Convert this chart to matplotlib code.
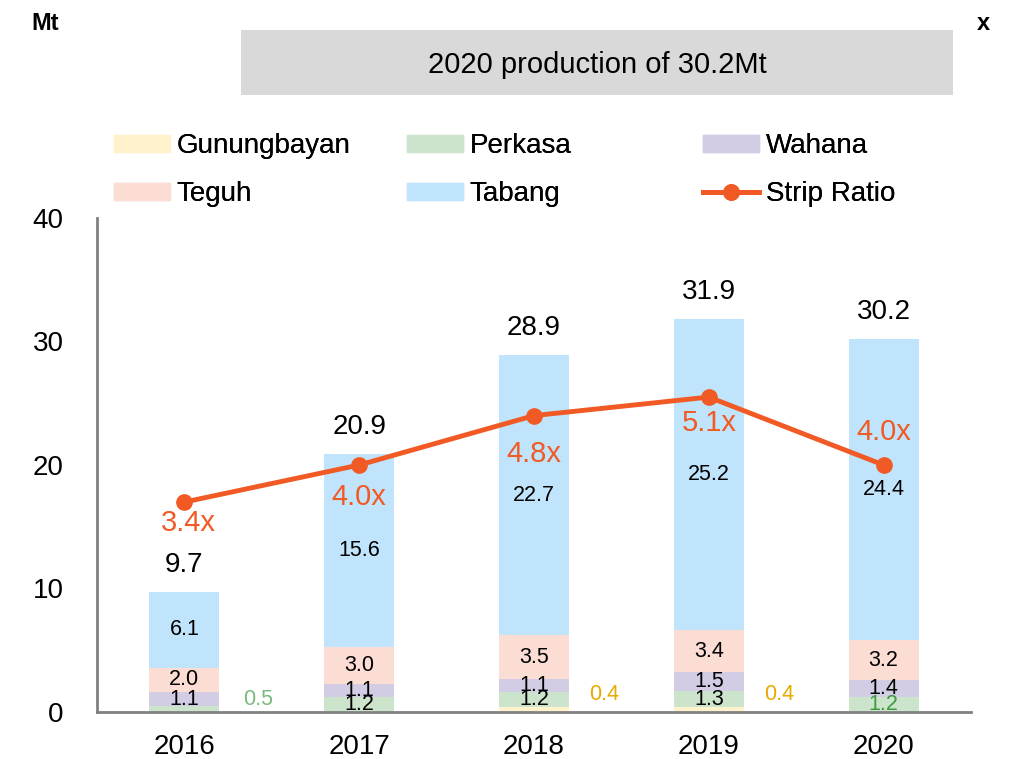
import matplotlib
matplotlib.use("Agg")
import matplotlib.pyplot as plt
from matplotlib.patches import Patch, Rectangle
from matplotlib.lines import Line2D
import numpy as np

plt.rcParams['font.family'] = ['Liberation Sans', 'DejaVu Sans']

years = ['2016', '2017', '2018', '2019', '2020']
gunungbayan = [0.0, 0.0, 0.4, 0.4, 0.0]
perkasa = [0.5, 1.2, 1.2, 1.3, 1.2]
wahana = [1.1, 1.1, 1.1, 1.5, 1.4]
teguh = [2.0, 3.0, 3.5, 3.4, 3.2]
tabang = [6.1, 15.6, 22.7, 25.2, 24.4]
totals = [9.7, 20.9, 28.9, 31.9, 30.2]
strip_ratio = [3.4, 4.0, 4.8, 5.1, 4.0]

names = ['Gunungbayan', 'Perkasa', 'Wahana', 'Teguh', 'Tabang']
colors = ['#FFF2CC', '#CCE3CC', '#D2CDE4', '#FBDDD3', '#BFE4FC']
line_color = '#F15A24'

fig = plt.figure(figsize=(10.09, 7.59), dpi=100)
ax = fig.add_axes([97 / 1009, 1 - 712 / 759, (971 - 97) / 1009, (712 - 218) / 759])

x = np.arange(len(years))
w = 0.4
series = [gunungbayan, perkasa, wahana, teguh, tabang]
bottom = np.zeros(len(years))
for vals, col, nm in zip(series, colors, names):
    vals = np.array(vals)
    ax.bar(x, vals, w, bottom=bottom, color=col, label=nm, zorder=2)
    bottom += vals

# segment labels
bottom = np.zeros(len(years))
for k, vals in enumerate(series):
    vals = np.array(vals)
    for i in range(len(years)):
        v = vals[i]
        if v <= 0:
            continue
        if k == 0:
            # gunungbayan sits outside, to the right of the bar
            ax.text(x[i] + 0.4, 1.4, f'{v:.1f}', ha='center', va='center',
                    fontsize=15.5, color='#E8A900', zorder=4)
        elif k == 1 and i == 0:
            ax.text(x[i] + 0.42, 1.0, f'{v:.1f}', ha='center', va='center',
                    fontsize=15.5, color='#7DB97D', zorder=4)
        else:
            c = '#3E9A3E' if (k == 1 and i == 4) else 'black'
            ax.text(x[i], bottom[i] + v / 2, f'{v:.1f}', ha='center', va='center',
                    fontsize=15.5, color=c, zorder=4)
        bottom[i] += v

for i, t in enumerate(totals):
    ax.annotate(f'{t:.1f}', (x[i], bottom[i]), xytext=(0, 19.5), textcoords='offset points',
                ha='center', va='center', fontsize=20, color='black')

ax.set_xlim(-0.5, 4.5)
ax.set_ylim(0, 40)
ax.set_yticks([0, 10, 20, 30, 40])
ax.set_xticks(x)
ax.set_xticklabels(years)
ax.tick_params(axis='both', length=0, labelsize=20)
ax.tick_params(axis='y', pad=24)
ax.tick_params(axis='x', pad=16)
for s in ['top', 'right']:
    ax.spines[s].set_visible(False)
for s in ['left', 'bottom']:
    ax.spines[s].set_color('#808080')
    ax.spines[s].set_linewidth(2)
ax.patch.set_alpha(0)

ax2 = ax.twinx()
ax2.set_ylim(0, 8)
ax2.plot(x, strip_ratio, color=line_color, lw=3.5, marker='o', ms=11, zorder=5,
         label='Strip Ratio')
ax2.axis('off')
label_offsets = [-15, -23, -28, -19, 24]
for i, r in enumerate(strip_ratio):
    ax2.annotate(f'{r:.1f}x', (x[i], r), xytext=(3 if i == 0 else 0, label_offsets[i]),
                 textcoords='offset points', ha='center', va='center',
                 fontsize=21, color=line_color)

# legend, three columns placed by hand
handles = [Patch(color=c) for c in colors]
line_h = Line2D([], [], color=line_color, lw=3.5, marker='o', ms=11)
cols = [([handles[0], handles[3]], [names[0], names[3]], 114),
        ([handles[1], handles[4]], [names[1], names[4]], 407),
        ([handles[2], line_h], [names[2], 'Strip Ratio'], 703)]
for hs, ls, px in cols:
    leg = fig.legend(hs, ls, loc='upper left', bbox_to_anchor=(px / 1009, 1 - 133 / 759),
                     frameon=False, fontsize=20, borderpad=0, borderaxespad=0,
                     handlelength=2.0, handleheight=0.55, handletextpad=0.25,
                     labelspacing=0.8)
    fig.add_artist(leg)

# title box
fig.patches.append(Rectangle((241 / 1009, 1 - 95 / 759), (953 - 241) / 1009, 65 / 759,
                             transform=fig.transFigure, facecolor='#D9D9D9',
                             edgecolor='none', zorder=0))
fig.text(597 / 1009, 1 - 65 / 759, '2020 production of 30.2Mt', ha='center', va='center',
         fontsize=21)
fig.text(45 / 1009, 1 - 24 / 759, 'Mt', ha='center', va='center', fontsize=17,
         fontweight='bold')
fig.text(983 / 1009, 1 - 24 / 759, 'x', ha='center', va='center', fontsize=17,
         fontweight='bold')

fig.savefig('out.png', dpi=100)
